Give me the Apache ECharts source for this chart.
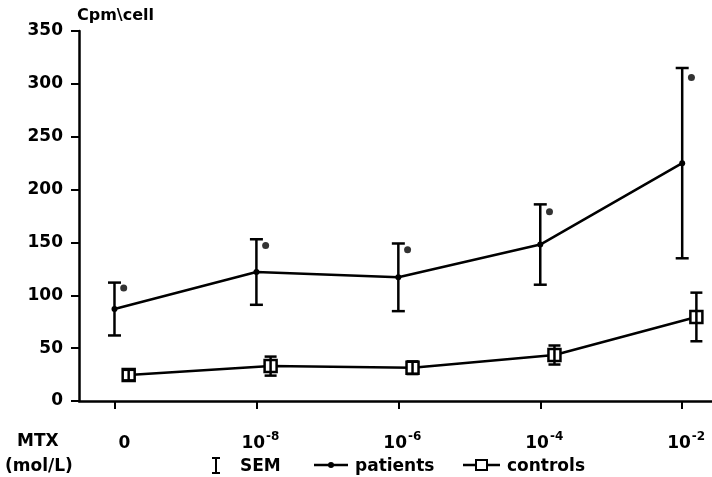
<!DOCTYPE html>
<html>
<head>
<meta charset="utf-8">
<script src="https://cdn.jsdelivr.net/npm/echarts@6/dist/echarts.min.js"></script>
<style>
  html, body { margin: 0; padding: 0; background: #fff; }
  #chart { width: 712px; height: 477px; }
</style>
</head>
<body>
<div id="chart"></div>
<script>
// MTX concentrations (x categories) and their exponents
const doseBase = ['0', '10', '10', '10', '10'];
const doseExp = ['', '-8', '-6', '-4', '-2'];

// Proliferation response, cpm per cell
const patientMean = [87, 122, 117, 148, 225];
const patientSem = [25, 31, 32, 38, 90];
const controlMean = [24.5, 33, 31.5, 43.5, 79.5];
const controlSem = [5, 9, 6, 9, 23];

// Significance markers printed beside the patient error bars
const sigMarkY = [107, 147, 143, 179, 306];

const FONT = 'DejaVu Sans';
const controlShift = 0.1;   // controls drawn a little right of patients
const sigShift = 0.065;
const LW = 2.5;

const idx = doseBase.map((_, i) => i);
const patientPts = idx.map(i => [i, patientMean[i]]);
const controlPts = idx.map(i => [i + controlShift, controlMean[i]]);
const patientErr = idx.map(i => [i, patientMean[i] - patientSem[i], patientMean[i] + patientSem[i]]);
const controlErr = idx.map(i => [i + controlShift, controlMean[i] - controlSem[i], controlMean[i] + controlSem[i]]);
const sigPts = idx.map(i => [i + sigShift, sigMarkY[i]]);

function errorBars(capHalf) {
  return function (params, api) {
    const x = api.value(0);
    const lo = api.coord([x, api.value(1)]);
    const hi = api.coord([x, api.value(2)]);
    const st = { stroke: '#000', lineWidth: LW };
    return {
      type: 'group',
      children: [
        { type: 'line', shape: { x1: lo[0], y1: lo[1], x2: hi[0], y2: hi[1] }, style: st },
        { type: 'line', shape: { x1: hi[0] - capHalf, y1: hi[1], x2: hi[0] + capHalf, y2: hi[1] }, style: st },
        { type: 'line', shape: { x1: lo[0] - capHalf, y1: lo[1], x2: lo[0] + capHalf, y2: lo[1] }, style: st }
      ]
    };
  };
}

const txt = { fontFamily: FONT, fontWeight: 'bold', fontSize: 17, color: '#000' };
const gfont = 'bold 17px "DejaVu Sans"';

const chart = echarts.init(document.getElementById('chart'), null, { renderer: 'canvas' });
chart.setOption({
  animation: false,
  backgroundColor: '#fff',
  grid: { left: 79, right: 0, top: 31, bottom: 76, containLabel: false },
  xAxis: {
    type: 'value',
    min: -0.25,
    max: 4.21,
    splitLine: { show: false },
    axisLine: { onZero: false, lineStyle: { color: '#000', width: LW } },
    axisTick: { customValues: idx, length: 8, lineStyle: { color: '#000', width: 2 } },
    axisLabel: {
      customValues: idx,
      margin: 33,
      formatter: function (v) {
        const i = Math.round(v);
        if (!doseExp[i]) return '{z|' + doseBase[i] + '}';
        return '{b|' + doseBase[i] + '}{s|' + doseExp[i] + '}';
      },
      rich: {
        z: Object.assign({}, txt, { lineHeight: 20, padding: [0, 0, 0, 20] }),
        b: Object.assign({}, txt, { lineHeight: 20, padding: [0, 0, 0, 8] }),
        s: Object.assign({}, txt, { fontSize: 12, lineHeight: 12, padding: [0, 0, 14, 1] })
      }
    }
  },
  yAxis: {
    type: 'value',
    min: 0,
    max: 350,
    interval: 50,
    name: 'Cpm\\cell',
    nameLocation: 'end',
    nameGap: 7,
    nameTextStyle: Object.assign({}, txt, { fontSize: 16, align: 'left', padding: [0, 0, 0, -2] }),
    splitLine: { show: false },
    axisLine: { show: true, onZero: false, lineStyle: { color: '#000', width: LW } },
    axisTick: { show: true, length: 8, lineStyle: { color: '#000', width: 2 } },
    axisLabel: Object.assign({}, txt, { margin: 16 })
  },
  series: [
    {
      name: 'patients',
      type: 'line',
      data: patientPts,
      symbol: 'circle',
      symbolSize: 6,
      lineStyle: { color: '#000', width: LW },
      itemStyle: { color: '#000' },
      z: 3
    },
    {
      name: 'controls',
      type: 'line',
      data: controlPts,
      symbol: 'rect',
      symbolSize: 12,
      lineStyle: { color: '#000', width: LW },
      itemStyle: { color: '#fff', borderColor: '#000', borderWidth: 2.5 },
      z: 3
    },
    {
      name: 'SEM patients',
      type: 'custom',
      data: patientErr,
      renderItem: errorBars(6.5),
      z: 4
    },
    {
      name: 'SEM controls',
      type: 'custom',
      data: controlErr,
      renderItem: errorBars(6),
      z: 5
    },
    {
      name: 'significance',
      type: 'scatter',
      data: sigPts,
      symbol: 'circle',
      symbolSize: 7,
      itemStyle: { color: '#000' },
      z: 4
    }
  ],
  graphic: [
    { type: 'text', left: 17, top: 433, style: { text: 'MTX', font: gfont, fill: '#000' } },
    { type: 'text', left: 5, top: 458, style: { text: '(mol/L)', font: gfont, fill: '#000' } },
    // legend: SEM
    { type: 'line', shape: { x1: 216, y1: 458, x2: 216, y2: 473 }, style: { stroke: '#000', lineWidth: 2 } },
    { type: 'line', shape: { x1: 212, y1: 458, x2: 220, y2: 458 }, style: { stroke: '#000', lineWidth: 2 } },
    { type: 'line', shape: { x1: 212, y1: 473, x2: 220, y2: 473 }, style: { stroke: '#000', lineWidth: 2 } },
    { type: 'text', left: 240, top: 458, style: { text: 'SEM', font: gfont, fill: '#000' } },
    // legend: patients
    { type: 'line', shape: { x1: 314, y1: 465, x2: 348, y2: 465 }, style: { stroke: '#000', lineWidth: LW } },
    { type: 'circle', shape: { cx: 331, cy: 465, r: 3 }, style: { fill: '#000' } },
    { type: 'text', left: 355, top: 458, style: { text: 'patients', font: gfont, fill: '#000' } },
    // legend: controls
    { type: 'line', shape: { x1: 463, y1: 465, x2: 500, y2: 465 }, style: { stroke: '#000', lineWidth: LW } },
    { type: 'rect', shape: { x: 476, y: 460, width: 11, height: 10 }, style: { fill: '#fff', stroke: '#000', lineWidth: 2 } },
    { type: 'text', left: 507, top: 458, style: { text: 'controls', font: gfont, fill: '#000' } }
  ]
});
</script>
</body>
</html>
